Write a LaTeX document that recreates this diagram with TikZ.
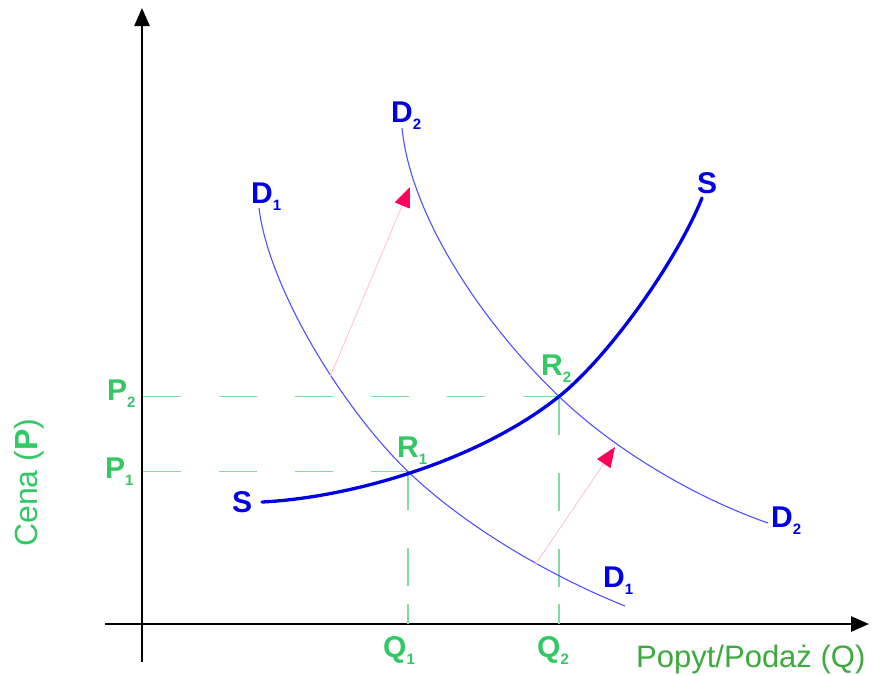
\documentclass[tikz,border=0pt]{standalone}
\usepackage{fontspec}
\setmainfont{Liberation Sans}
\usetikzlibrary{arrows.meta}
\definecolor{lblgreen}{RGB}{50,200,100}
\definecolor{dashgreen}{RGB}{130,220,160}
\definecolor{axgreen}{RGB}{60,170,60}
\definecolor{curveblue}{RGB}{80,80,255}
\definecolor{sblue}{RGB}{0,0,225}
\definecolor{lblblue}{RGB}{0,0,230}
\definecolor{arrowpink}{RGB}{255,200,220}
\definecolor{arrowred}{RGB}{255,0,90}
\newcommand{\sublab}[2]{#1\raisebox{-7pt}{\fontsize{15}{15}\selectfont #2}}
\begin{document}
\begin{tikzpicture}[x=1pt,y=-1pt,
 lbl/.style={inner sep=0pt, anchor=base west, font=\fontsize{30}{30}\selectfont\bfseries},
 bluelbl/.style={lbl, text=lblblue},
 greenlbl/.style={lbl, text=lblgreen},
 axisline/.style={line width=2.5pt, -{Triangle[length=18pt,width=15pt]}},
 guide/.style={dashgreen, line width=1.2pt},
 dcurve/.style={curveblue, line width=1.1pt},
 scurve/.style={sblue, line width=3.3pt, line cap=round},
 shiftarrow/.style={arrowpink, line width=1pt, -{Triangle[length=20pt,width=16pt,color=arrowred]}}
]
\useasboundingbox (0,0) rectangle (872,675);

% axes
\coordinate (yb) at (142,662);
\coordinate (yt) at (142,8);
\coordinate (xl) at (105,624);
\coordinate (xr) at (869,624);
\draw[axisline] (yb) -- (yt);
\draw[axisline] (xl) -- (xr);

% guide lines
\coordinate (P2a) at (143,396.5);
\coordinate (R2) at (559,396.5);
\coordinate (P1a) at (143,471.5);
\coordinate (R1) at (408,471.5);
\coordinate (Q1a) at (408,624);
\coordinate (Q2a) at (559,624);
\draw[guide, dash pattern=on 38pt off 38pt] (P2a) -- (R2);
\draw[guide, dash pattern=on 38pt off 38pt] (P1a) -- (R1);
\draw[guide, dash pattern=on 38pt off 38pt on 38pt off 18pt on 21pt] (R1) -- (Q1a);
\draw[guide, dash pattern=on 38pt off 38pt on 38pt off 38pt on 38pt off 17pt on 21pt] (R2) -- (Q2a);

% demand curves
\coordinate (D1top) at (259,208);
\coordinate (D1end) at (625,606);
\coordinate (D2top) at (402,128);
\coordinate (D2end) at (768,523);
\coordinate (Sstart) at (262,502);
\coordinate (Send) at (702,198);
\draw[dcurve] (D1top) .. controls (268.6,288) and (343,409.1) .. (R1)
              .. controls (468,529.1) and (555,578) .. (D1end);
\draw[dcurve] (D2top) .. controls (411,218) and (484,324.5) .. (R2)
              .. controls (614,449.3) and (693,496.75) .. (D2end);

% supply curve
\draw[scurve] (Sstart) .. controls (352,497.5) and (479,460.5) .. (R2)
              .. controls (609,356.5) and (677,260.5) .. (Send);

% shift arrows
\coordinate (a1s) at (330,377);
\coordinate (a1e) at (410,187);
\coordinate (a2s) at (535,565);
\coordinate (a2e) at (615,447);
\draw[shiftarrow] (a1s) -- (a1e);
\draw[shiftarrow] (a2s) -- (a2e);

% labels
\node[bluelbl] (d1t) at (251,203) {\sublab{D}{1}};
\node[bluelbl] (d2t) at (391,122) {\sublab{D}{2}};
\node[bluelbl] (st) at (697,193) {S};
\node[bluelbl] (sl) at (232,512) {S};
\node[bluelbl] (d2r) at (771,527) {\sublab{D}{2}};
\node[bluelbl] (d1b) at (603,587) {\sublab{D}{1}};
\node[greenlbl] (r1) at (397,457) {\sublab{R}{1}};
\node[greenlbl] (r2) at (541,375) {\sublab{R}{2}};
\node[greenlbl] (p2) at (107,400) {\sublab{P}{2}};
\node[greenlbl] (p1) at (105,478) {\sublab{P}{1}};
\node[greenlbl] (q1) at (383,657) {\sublab{Q}{1}};
\node[greenlbl] (q2) at (537,657) {\sublab{Q}{2}};

\node[inner sep=0pt, anchor=base west, text=axgreen, font=\fontsize{31}{31}\selectfont] (xlab) at (636,667) {Popyt/Podaż (Q)};
\node[inner sep=0pt, anchor=base west, rotate=90, text=lblgreen, font=\fontsize{32}{32}\selectfont] (ylab) at (37,547) {Cena (\textbf{P})};
\end{tikzpicture}
\end{document}
